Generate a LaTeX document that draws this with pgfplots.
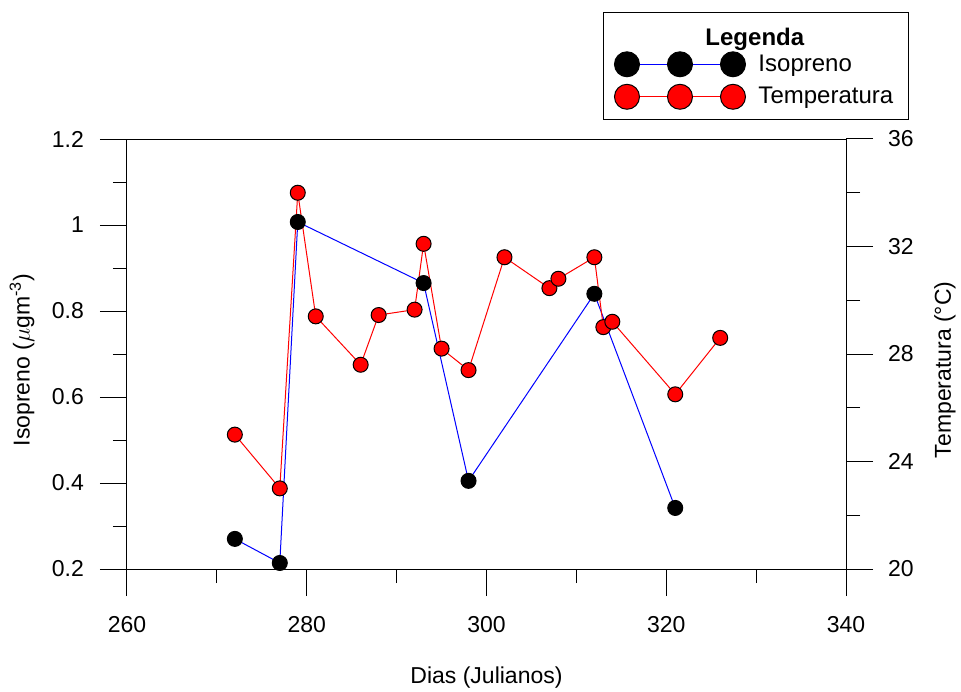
\documentclass[border=0pt]{standalone}
\usepackage{fontspec}
\setmainfont{Liberation Sans}
\usepackage{pgfplots}
\pgfplotsset{compat=1.18}
\pgfplotstableread{
x y
272 0.270
277 0.214
279 1.007
293 0.865
298 0.405
312 0.840
321 0.342
}\isop
\pgfplotstableread{
x t
272 25.00
277 23.00
279 34.00
281 29.40
286 27.60
288 29.45
292 29.65
293 32.10
295 28.20
298 27.40
302 31.60
307 30.45
308 30.80
312 31.60
313 29.00
314 29.20
321 26.50
326 28.60
}\temp
\pgfplotsset{
  common/.style={
    width=359.5pt, height=215pt, scale only axis,
    at={(0,0)}, anchor=south west,
    xmin=260, xmax=340,
    tick align=outside,
    major tick length=13.5pt, minor tick length=7pt,
    tick style={black, line width=0.5pt},
    axis line style={line width=0.5pt},
    ticklabel style={font=\fontsize{11.5}{13}\selectfont},
    /pgf/number format/assume math mode=true,
    label style={font=\fontsize{11.5}{14}\selectfont},
  },
  threemark legend/.style={
    legend image code/.code={\draw[##1, mark size=6.25pt] plot coordinates {(0pt,0pt) (26.5pt,0pt) (53pt,0pt)};}
  }
}
\begin{document}
\begin{tikzpicture}
\path[use as bounding box] (-63.5pt,-61pt) rectangle (417pt,284.5pt);
\begin{axis}[common,
  ymin=0.2, ymax=1.2,
  tick pos=left,
  xtick={260,280,300,320,340}, minor xtick={270,290,310,330},
  ytick={0.2,0.4,0.6,0.8,1,1.2}, minor ytick={0.3,0.5,0.7,0.9,1.1},
  xticklabel shift=6.5pt, yticklabel shift=4.5pt,
  xlabel={Dias (Julianos)},
  ylabel={Isopreno ($\mu$gm\textsuperscript{-3})},
  xlabel style={at={(axis description cs:0.5,-0.2535)}, anchor=center},
  ylabel style={at={(axis description cs:-0.146,0.486)}, anchor=center},
]
\addplot[blue, line width=0.5pt, no marks] table[x=x, y=y] {\isop};
\end{axis}
\begin{axis}[common,
  ymin=20, ymax=36,
  axis y line*=right, axis x line=none,
  ytick={20,24,28,32,36}, minor ytick={22,26,30,34},
  yticklabel shift=4pt,
  ylabel={Temperatura (°C)},
  ylabel style={at={(axis description cs:1.1377,0.463)}, anchor=center},
]
\addplot[red, line width=0.5pt, mark=*, mark size=3.75pt, mark options={fill=red, draw=black, line width=0.5pt}] table[x=x, y=t] {\temp};
\end{axis}
\begin{axis}[common,
  ymin=0.2, ymax=1.2, hide axis,
  legend style={at={(0.662,1.2953)}, anchor=north west, draw=black, line width=0.5pt,
    font=\fontsize{12}{14}\selectfont, inner xsep=5.5pt, inner ysep=4.5pt, row sep=2.5pt, column sep=4.5pt,
    cells={anchor=west}},
]
\addplot[only marks, mark=*, mark size=3.75pt, mark options={fill=black, draw=black, line width=0.5pt}, forget plot] table[x=x, y=y] {\isop};
\addlegendimage{empty legend}
\addlegendentry[inner ysep=0pt, text height=11.8pt, text depth=0.2pt]{\hspace*{-26.5pt}\textbf{Legenda}}
\addlegendimage{blue, line width=0.5pt, mark=*, mark options={solid, fill=black, draw=black, line width=0.5pt}, threemark legend}
\addlegendentry{Isopreno}
\addlegendimage{red, line width=0.5pt, mark=*, mark options={solid, fill=red, draw=black, line width=0.5pt}, threemark legend}
\addlegendentry{Temperatura}
\end{axis}
\end{tikzpicture}
\end{document}
